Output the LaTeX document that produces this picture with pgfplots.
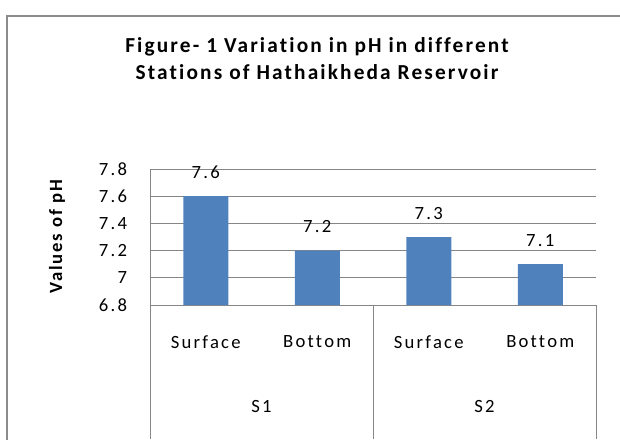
\documentclass[border=0pt]{standalone}
\usepackage{fontspec}
\setmainfont{Carlito}
\newfontfamily\tickfont[LetterSpace=12, Ligatures=NoCommon]{Carlito}
\newfontfamily\titlefont[LetterSpace=10, Ligatures=NoCommon]{Carlito}
\newfontfamily\labfont[LetterSpace=10, Ligatures=NoCommon]{Carlito}
\usepackage{pgfplots}
\pgfplotsset{compat=1.18}
\definecolor{barblue}{HTML}{4F81BD}
\definecolor{gridgray}{HTML}{868686}
\definecolor{framegray}{HTML}{8C8C8C}
\begin{document}
\begin{tikzpicture}
\path[use as bounding box] (0,0) rectangle (465pt,329.25pt);
% outer chart frame (cropped on right and bottom)
\draw[framegray, line width=1.5pt] (5.25pt,-1pt) -- (5.25pt,317.25pt) -- (470pt,317.25pt);
% title
\node[anchor=base, font=\titlefont\bfseries\fontsize{16pt}{19pt}\selectfont] at (237.75pt,289.5pt)
  {Figure- 1 Variation in pH in different};
\node[anchor=base, font=\titlefont\bfseries\fontsize{16pt}{19pt}\selectfont] at (237.75pt,269.25pt)
  {Stations of Hathaikheda Reservoir};
% y label
\node[rotate=90, font=\labfont\bfseries\fontsize{14pt}{16pt}\selectfont] at (42.75pt,151.5pt) {Values of pH};
\begin{axis}[
  at={(112.5pt,100.5pt)}, anchor=south west,
  scale only axis, width=334.5pt, height=102pt,
  xmin=-0.5, xmax=3.5, ymin=6.8, ymax=7.8,
  axis lines*=left,
  axis line style={gridgray, line width=0.75pt},
  ybar, bar width=33.75pt, bar shift=0pt,
  ytick={6.8,7.0,7.2,7.4,7.6,7.8},
  yticklabels={6.8,7,7.2,7.4,7.6,7.8},
  xtick={0,1,2,3},
  xticklabels={Surface,Bottom,Surface,Bottom},
  major tick length=0pt,
  ymajorgrids, grid style={gridgray, line width=0.75pt},
  yticklabel style={font=\tickfont\fontsize{14pt}{16pt}\selectfont, anchor=east, inner sep=0pt, xshift=-17pt},
  xticklabel style={font=\tickfont\fontsize{14pt}{16pt}\selectfont, anchor=center, inner sep=0pt, yshift=-27.75pt},
  nodes near coords={\pgfmathprintnumber[assume math mode=true, fixed, precision=1]{\pgfplotspointmeta}},
  nodes near coords style={font=\tickfont\fontsize{14pt}{16pt}\selectfont, anchor=south, inner sep=0pt, yshift=13pt, text=black},
  clip=false,
]
\addplot[fill=barblue, draw=none] coordinates {
(0,7.6)
(1,7.2)
(2,7.3)
(3,7.1)
};
% category group separators and group labels
\draw[gridgray, line width=0.75pt] (axis cs:-0.5,6.8) -- ([yshift=-100.5pt]axis cs:-0.5,6.8);
\draw[gridgray, line width=0.75pt] (axis cs:1.5,6.8) -- ([yshift=-100.5pt]axis cs:1.5,6.8);
\draw[gridgray, line width=0.75pt] (axis cs:3.5,6.8) -- ([yshift=-100.5pt]axis cs:3.5,6.8);
\node[font=\tickfont\fontsize{14pt}{16pt}\selectfont, inner sep=0pt] at ([yshift=-76.5pt]axis cs:0.5,6.8) {S1};
\node[font=\tickfont\fontsize{14pt}{16pt}\selectfont, inner sep=0pt] at ([yshift=-76.5pt]axis cs:2.5,6.8) {S2};
\end{axis}
\end{tikzpicture}
\end{document}
